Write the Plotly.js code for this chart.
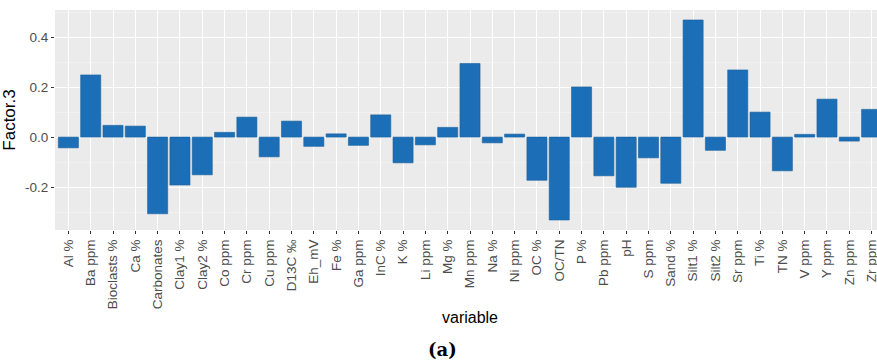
<!DOCTYPE html>
<html>
<head>
<meta charset="utf-8">
<script src="https://cdn.plot.ly/plotly-3.0.1.min.js"></script>
<style>
  html, body { margin: 0; padding: 0; overflow: hidden; background: #fff; width: 877px; height: 362px; }
  #chart { width: 890px; height: 362px; }
</style>
</head>
<body>
<div id="chart"></div>
<script>
const variables = ["Al %", "Ba ppm", "Bioclasts %", "Ca %", "Carbonates", "Clay1 %", "Clay2 %", "Co ppm", "Cr ppm", "Cu ppm", "D13C \u2030", "Eh_mV", "Fe %", "Ga ppm", "InC %", "K %", "Li ppm", "Mg %", "Mn ppm", "Na %", "Ni ppm", "OC %", "OC/TN", "P %", "Pb ppm", "pH", "S ppm", "Sand %", "Silt1 %", "Silt2 %", "Sr ppm", "Ti %", "TN %", "V ppm", "Y ppm", "Zn ppm", "Zr ppm"];
const factor3 = [-0.043, 0.249, 0.047, 0.044, -0.307, -0.192, -0.151, 0.019, 0.080, -0.079, 0.064, -0.037, 0.013, -0.033, 0.089, -0.103, -0.031, 0.039, 0.295, -0.023, 0.012, -0.173, -0.332, 0.201, -0.155, -0.201, -0.083, -0.185, 0.469, -0.053, 0.269, 0.100, -0.135, 0.011, 0.152, -0.016, 0.111];
const yTicks = [-0.2, 0.0, 0.2, 0.4];
const yTickText = ["-0.2", "0.0", "0.2", "0.4"];

const trace = {
  type: "bar",
  x: variables,
  y: factor3,
  marker: { color: "#1c6fb6", line: { color: "#1a5f9c", width: 0.6 } },
  hoverinfo: "x+y"
};

const layout = {
  width: 890,
  height: 362,
  margin: { l: 55, r: 5, t: 10, b: 132 },
  paper_bgcolor: "#ffffff",
  plot_bgcolor: "#ebebeb",
  bargap: 0.1,
  showlegend: false,
  font: { family: "Liberation Sans, Arial, sans-serif", color: "#4d4d4d" },
  xaxis: {
    type: "category",
    range: [-0.6, 36.6],
    tickangle: -90,
    tickfont: { size: 13.5, color: "#4d4d4d" },
    showgrid: true,
    gridcolor: "#ffffff",
    gridwidth: 1,
    ticks: "outside",
    ticklen: 3,
    tickcolor: "#333333",
    zeroline: false,
    showline: false,
    title: { text: "variable", font: { size: 16, color: "#000000" }, standoff: 3 }
  },
  yaxis: {
    range: [-0.372, 0.509],
    tickvals: yTicks,
    ticktext: yTickText,
    tickfont: { size: 13.5, color: "#4d4d4d" },
    showgrid: true,
    gridcolor: "#ffffff",
    gridwidth: 1.1,
    minor: { dtick: 0.1, tick0: 0.1, showgrid: true, gridcolor: "#f5f5f5", gridwidth: 0.6, ticks: "" },
    ticks: "outside",
    ticklen: 3,
    tickcolor: "#333333",
    zeroline: false,
    showline: false,
    title: { text: "Factor.3", font: { size: 17, color: "#000000" }, standoff: 5 }
  },
  annotations: [{
    text: "<b>(a)</b>",
    xref: "paper", yref: "paper",
    x: 0, y: 0, xanchor: "center", yanchor: "middle",
    showarrow: false,
    font: { family: "DejaVu Serif, Liberation Serif, serif", size: 18, color: "#000000" }
  }]
};

// place the caption relative to the page (centre ~442px, y ~349px)
const plotW = 890 - 55 - 5, plotH = 362 - 10 - 132;
layout.annotations[0].x = (442 - 55) / plotW;
layout.annotations[0].y = (362 - 132 - 349) / plotH;

Plotly.newPlot("chart", [trace], layout, { displayModeBar: false, staticPlot: true });
</script>
</body>
</html>
